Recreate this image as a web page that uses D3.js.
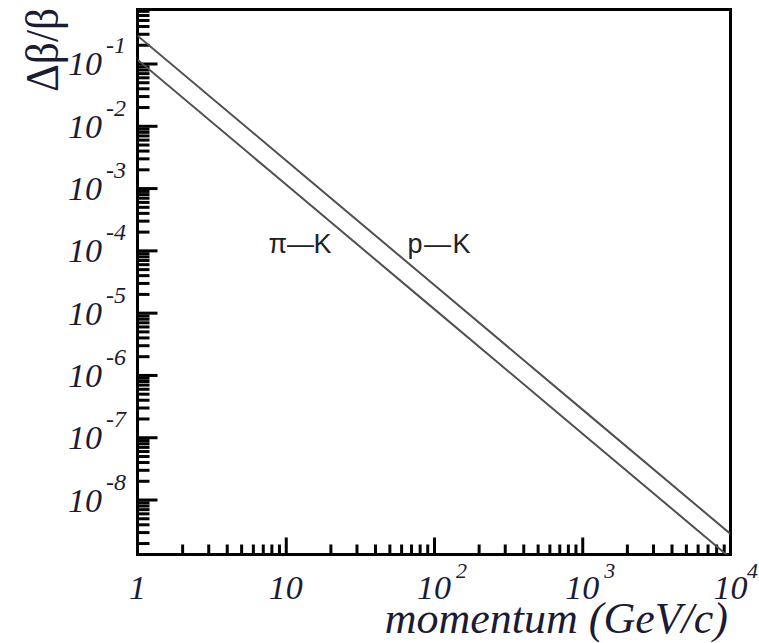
<!DOCTYPE html>
<html>
<head>
<meta charset="utf-8">
<script src="https://cdn.jsdelivr.net/npm/d3@7"></script>
<style>
  body { margin: 0; background: #fff; }
  svg { display: block; }
</style>
</head>
<body>
<svg id="chart" width="759" height="643"></svg>
<script>
// momentum (GeV/c) and the two separations
const momentum = [1, 10, 100, 1000, 10000];
const pK  = [0.28, 2.8e-3, 2.8e-5, 2.8e-7, 2.8e-9];
const piK = [0.115, 1.15e-3, 1.15e-5, 1.15e-7, 1.15e-9];

const xMajor = [1, 10, 100, 1000, 10000];
const xLabels = [["1", ""], ["10", ""], ["10", "2"], ["10", "3"], ["10", "4"]];
const yMajor = [1e-1, 1e-2, 1e-3, 1e-4, 1e-5, 1e-6, 1e-7, 1e-8];
const yExp = ["-1", "-2", "-3", "-4", "-5", "-6", "-7", "-8"];

const curveNames = ["π—K", "p—K"];
const curveLabelX = [12.5, 108];
const curveLabelY = [9.1e-5, 9.1e-5];

const svg = d3.select('#chart');
const plotL = 137.5, plotR = 730.5, plotT = 9.5, plotB = 554.5;

const x = d3.scaleLog().domain([1, 1e4]).range([plotL, plotR]);
const y = d3.scaleLog().domain([1.31e-9, 0.736]).range([plotB, plotT]);

svg.append('clipPath').attr('id', 'plot-clip')
  .append('rect')
  .attr('x', plotL).attr('y', plotT)
  .attr('width', plotR - plotL).attr('height', plotB - plotT);

// minor + major ticks, pointing inward
const xMinor = x.ticks(40).filter(v => !xMajor.includes(v));
const yMinor = y.ticks(40).filter(v => !yMajor.some(m => Math.abs(m - v) / v < 1e-6));

function styleAxis(g) {
  g.select('.domain').remove();
  g.selectAll('line').attr('stroke', '#000').attr('stroke-width', 3);
}

svg.append('g').attr('transform', `translate(0,${plotB})`)
  .call(d3.axisBottom(x).tickValues(xMinor).tickSize(-10).tickFormat(''))
  .call(styleAxis);
svg.append('g').attr('transform', `translate(0,${plotB})`)
  .call(d3.axisBottom(x).tickValues(xMajor.slice(1, -1)).tickSize(-17).tickFormat(''))
  .call(styleAxis);
svg.append('g').attr('transform', `translate(${plotL},0)`)
  .call(d3.axisLeft(y).tickValues(yMinor).tickSize(-12).tickFormat(''))
  .call(styleAxis);
svg.append('g').attr('transform', `translate(${plotL},0)`)
  .call(d3.axisLeft(y).tickValues(yMajor).tickSize(-20).tickFormat(''))
  .call(styleAxis);

// frame
svg.append('rect')
  .attr('x', plotL).attr('y', plotT)
  .attr('width', plotR - plotL).attr('height', plotB - plotT)
  .attr('fill', 'none').attr('stroke', '#000').attr('stroke-width', 3);

// curves
const line = d3.line().x(d => x(d[0])).y(d => y(d[1]));
[pK, piK].forEach(vals => {
  svg.append('path')
    .datum(momentum.map((m, i) => [m, vals[i]]))
    .attr('clip-path', 'url(#plot-clip)')
    .attr('d', line)
    .attr('fill', 'none')
    .attr('stroke', '#505050')
    .attr('stroke-width', 2);
});

// curve labels
curveNames.forEach((t, i) => {
  svg.append('text')
    .attr('x', x(curveLabelX[i])).attr('y', y(curveLabelY[i]))
    .attr('text-anchor', 'middle')
    .attr('font-family', 'Liberation Sans, Arial, sans-serif')
    .attr('font-size', 27)
    .attr('fill', '#222')
    .attr('textLength', 63).attr('lengthAdjust', 'spacing')
    .text(t);
});

// tick labels
const serif = 'Liberation Serif, Times New Roman, serif';
xMajor.forEach((v, i) => {
  const tx = x(v);
  svg.append('text')
    .attr('x', tx).attr('y', 599)
    .attr('text-anchor', 'middle')
    .attr('font-family', serif).attr('font-style', 'italic')
    .attr('font-size', 34).attr('fill', '#1b1b33')
    .text(xLabels[i][0]);
  if (xLabels[i][1]) {
    svg.append('text')
      .attr('x', Math.min(tx + 22, 747)).attr('y', 578)
      .attr('font-family', serif).attr('font-style', 'italic')
      .attr('font-size', 22).attr('fill', '#1b1b33')
      .text(xLabels[i][1]);
  }
});

yMajor.forEach((v, i) => {
  const ty = y(v);
  svg.append('text')
    .attr('x', 102).attr('y', ty + 12)
    .attr('text-anchor', 'end')
    .attr('font-family', serif).attr('font-style', 'italic')
    .attr('font-size', 34).attr('fill', '#1b1b33')
    .text('10');
  svg.append('text')
    .attr('x', 106).attr('y', ty - 10)
    .attr('font-family', serif).attr('font-style', 'italic')
    .attr('font-size', 24).attr('fill', '#1b1b33')
    .text(yExp[i]);
});

// axis titles
svg.append('text')
  .attr('x', 728).attr('y', 633)
  .attr('text-anchor', 'end')
  .attr('font-family', serif).attr('font-style', 'italic')
  .attr('font-size', 44).attr('fill', '#1b1b33')
  .text('momentum (GeV/c)');

svg.append('text')
  .attr('transform', 'translate(58,50) rotate(-90)')
  .attr('text-anchor', 'middle')
  .attr('font-family', serif)
  .attr('font-size', 46).attr('fill', '#1b1b33')
  .attr('textLength', 84).attr('lengthAdjust', 'spacingAndGlyphs')
  .text('Δβ/β');
</script>
</body>
</html>
